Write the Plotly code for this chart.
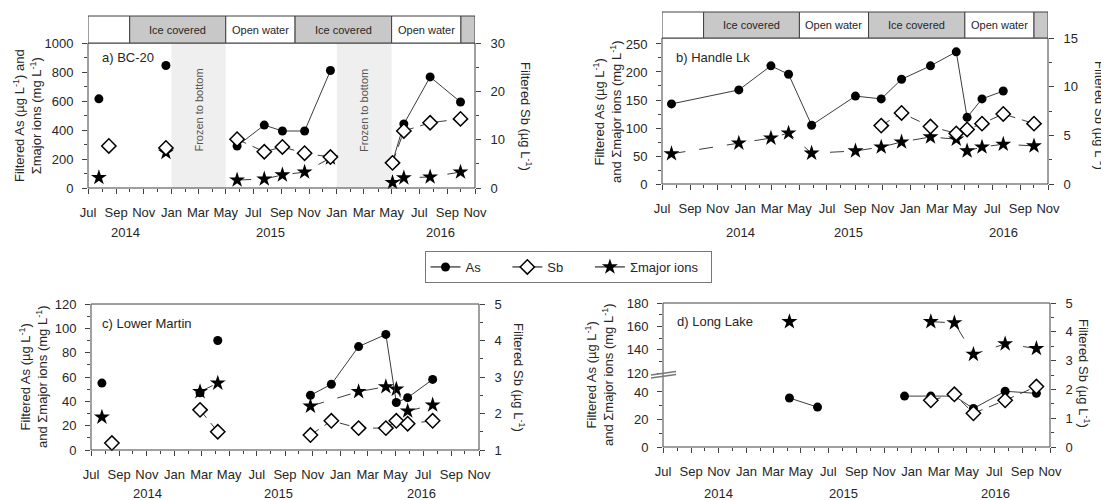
import datetime as dt
import plotly.graph_objects as go

# page body has an 8px margin; the figure is sized so that it fills the 1109x500 window
OFF = 8
W, H = 1109 - OFF, 500 - OFF

# ---------------- DATA ----------------
# Panel a) BC-20
A_DATES = ["2014-07-25", "2014-12-20", "2015-05-26", "2015-07-25", "2015-09-03", "2015-10-22",
           "2015-12-18", "2016-05-03", "2016-05-28", "2016-07-25", "2016-09-30"]
A_AS = [615, 845, 290, 434, 393, 393, 810, 180, 441, 766, 593]
A_IONS = [72, 245, 55, 62, 90, 110, 207, 38, 70, 76, 110]
A_SEG = [0, 1, 2, 2, 2, 2, 2, 3, 3, 3, 3]
A_SB_DATES = ["2014-08-16", "2014-12-20", "2015-05-26", "2015-07-25", "2015-09-03", "2015-10-22",
              "2015-12-18", "2016-05-03", "2016-05-28", "2016-07-25", "2016-09-30"]
A_SB = [8.7, 8.3, 10.1, 7.5, 8.5, 7.2, 6.4, 5.2, 11.8, 13.5, 14.3]
A_SB_SEG = [0, 1, 2, 2, 2, 2, 2, 3, 3, 3, 3]

# Panel b) Handle Lk
B_DATES = ["2014-07-22", "2014-12-18", "2015-02-27", "2015-04-07", "2015-05-28", "2015-09-02",
           "2015-10-29", "2015-12-13", "2016-02-15", "2016-04-12", "2016-05-06", "2016-06-08",
           "2016-07-25"]
B_AS = [143, 168, 211, 196, 105, 157, 152, 187, 211, 236, 119, 152, 166]
B_IONS_DATES = B_DATES + ["2016-10-01"]
B_IONS = [54, 73, 82, 91, 55, 59, 66, 75, 84, 80, 59, 66, 71, 68]
B_SB_DATES = ["2015-10-29", "2015-12-13", "2016-02-15", "2016-04-12", "2016-05-06", "2016-06-08",
              "2016-07-25", "2016-10-01"]
B_SB = [6.0, 7.3, 5.9, 5.2, 5.6, 6.2, 7.2, 6.2]

# Panel c) Lower Martin
C_AS_DATES = ["2014-07-25", "2015-02-26", "2015-04-06", "2015-10-27", "2015-12-12", "2016-02-10",
              "2016-04-10", "2016-05-03", "2016-05-28", "2016-07-22"]
C_AS = [55, 47, 90, 45, 54, 85, 95, 39, 43, 58]
C_AS_SEG = [0, 1, 2, 3, 3, 3, 3, 3, 3, 3]
C_SB_DATES = ["2014-08-16", "2015-02-26", "2015-04-06", "2015-10-27", "2015-12-12", "2016-02-10",
              "2016-04-10", "2016-05-03", "2016-05-28", "2016-07-22"]
C_SB = [1.19, 2.1, 1.5, 1.41, 1.8, 1.6, 1.6, 1.8, 1.72, 1.8]
C_SB_SEG = [0, 1, 1, 2, 2, 2, 2, 2, 2, 2]
C_IONS_DATES = ["2014-07-25", "2015-02-26", "2015-04-06", "2015-10-27", "2016-02-10",
                "2016-04-10", "2016-05-03", "2016-05-28", "2016-07-22"]
C_IONS = [27, 48, 55, 36, 48, 52, 50, 32, 37]
C_IONS_SEG = [0, 1, 1, 2, 2, 2, 2, 2, 2]

# Panel d) Long Lake
D_AS_DATES = ["2015-04-06", "2015-06-07", "2015-12-16", "2016-02-12", "2016-04-04", "2016-05-16",
              "2016-07-25", "2016-10-02"]
D_AS = [35.6, 29, 37, 37, 37, 28, 40.5, 39]
D_AS_SEG = [0, 0, 1, 1, 1, 1, 1, 1]
D_SB_DATES = ["2016-02-12", "2016-04-04", "2016-05-16", "2016-07-25", "2016-10-02"]
D_SB = [1.62, 1.83, 1.17, 1.62, 2.1]
D_IONS_DATES = ["2015-04-06", "2016-02-12", "2016-04-04", "2016-05-16", "2016-07-25", "2016-10-02"]
D_IONS = [164, 164, 163, 136, 145, 141]
D_IONS_SEG = [0, 1, 1, 1, 1, 1]

# Ice-cover header periods (start, end, label, shaded)
HEADER = [("2014-07-01", "2014-10-01", "", False),
          ("2014-10-01", "2015-05-01", "Ice covered", True),
          ("2015-05-01", "2015-10-01", "Open water", False),
          ("2015-10-01", "2016-05-01", "Ice covered", True),
          ("2016-05-01", "2016-10-01", "Open water", False),
          ("2016-10-01", "2016-11-01", "", True)]
FROZEN = [("2015-01-01", "2015-05-01"), ("2016-01-01", "2016-05-01")]

# ---------------- STYLE ----------------
FONT = "Arial, Liberation Sans, sans-serif"
LC = "#404040"
TC = "#262626"
LINEC = "#3c3c3c"


def X(p):
    return (p - OFF) / W


def Y(p):
    return 1 - (p - OFF) / H


def mid(s, e):
    a = dt.date.fromisoformat(s)
    b = dt.date.fromisoformat(e)
    return (a + (b - a) / 2).isoformat()


def gapped(dates, vals, segs=None):
    if segs is None:
        return list(dates), list(vals)
    xs, ys = [], []
    prev = segs[0]
    for d, v, s in zip(dates, vals, segs):
        if s != prev:
            xs.append(None)
            ys.append(None)
            prev = s
        xs.append(d)
        ys.append(v)
    return xs, ys


STYLES = {
    "As": dict(marker=dict(symbol="circle", size=9, color="black"),
               line=dict(color=LINEC, width=1)),
    "Sb": dict(marker=dict(symbol="diamond", size=11, color="white",
                           line=dict(color="black", width=1.5)),
               line=dict(color=LINEC, width=1, dash="10px,7px")),
    "ions": dict(marker=dict(symbol="star", size=12, color="black"),
                 line=dict(color=LINEC, width=1, dash="14px,14px")),
}

fig = go.Figure()


def add(kind, dates, vals, segs, xa, ya):
    xs, ys = gapped(dates, vals, segs)
    st = STYLES[kind]
    fig.add_trace(go.Scatter(x=xs, y=ys, mode="lines+markers", xaxis=xa, yaxis=ya,
                             showlegend=False, connectgaps=False, cliponaxis=False,
                             marker=st["marker"], line=st["line"]))


# panel a
add("ions", A_DATES, A_IONS, A_SEG, "x", "y")
add("As", A_DATES, A_AS, A_SEG, "x", "y")
add("Sb", A_SB_DATES, A_SB, A_SB_SEG, "x", "y2")
# panel b
add("ions", B_IONS_DATES, B_IONS, None, "x2", "y3")
add("As", B_DATES, B_AS, None, "x2", "y3")
add("Sb", B_SB_DATES, B_SB, None, "x2", "y4")
# panel c
add("ions", C_IONS_DATES, C_IONS, C_IONS_SEG, "x3", "y5")
add("As", C_AS_DATES, C_AS, C_AS_SEG, "x3", "y5")
add("Sb", C_SB_DATES, C_SB, C_SB_SEG, "x3", "y6")
# panel d
add("ions", D_IONS_DATES, D_IONS, D_IONS_SEG, "x4", "y8")
add("As", D_AS_DATES, D_AS, D_AS_SEG, "x4", "y7")
add("Sb", D_SB_DATES, D_SB, None, "x4", "y9")

# legend entries
NB = "\u00a0"
fig.add_trace(go.Scatter(x=[None], y=[None], mode="lines+markers", name="As" + NB * 6,
                         marker=STYLES["As"]["marker"], line=dict(color="black", width=1)))
fig.add_trace(go.Scatter(x=[None], y=[None], mode="lines+markers", name="Sb" + NB * 6,
                         marker=STYLES["Sb"]["marker"], line=dict(color="black", width=1)))
fig.add_trace(go.Scatter(x=[None], y=[None], mode="lines+markers", name="Σmajor ions" + NB * 2,
                         marker=STYLES["ions"]["marker"], line=dict(color="black", width=1)))

tickfont = dict(family=FONT, size=13, color=TC)


def xaxis(l, r, anchor):
    return dict(type="date", domain=[X(l), X(r)], anchor=anchor, automargin=False,
                range=["2014-07-01", "2016-11-01"], tick0="2014-07-01", dtick="M2",
                tickformat="%b", ticks="outside", ticklen=5, tickcolor=LC, tickwidth=1,
                ticklabelstandoff=7,
                showline=False, showgrid=False, zeroline=False, tickfont=tickfont,
                minor=dict(dtick="M1", ticks="outside", ticklen=3, tickcolor=LC, showgrid=False))


def yaxis(b, t, anchor, rng, dtick, mdtick, side="left", overlaying=None, tick0=0):
    d = dict(domain=[Y(b), Y(t)], anchor=anchor, range=rng, tick0=tick0, dtick=dtick,
             side=side, ticks="outside", ticklen=5, tickcolor=LC, tickwidth=1, automargin=False,
             ticklabelstandoff=6 if side == "left" else 7,
             showline=False, showgrid=False, zeroline=False, tickfont=tickfont,
             minor=dict(dtick=mdtick, ticks="outside", ticklen=3, tickcolor=LC, showgrid=False))
    if overlaying:
        d["overlaying"] = overlaying
    return d


PA = (88, 475, 43, 188)
PB = (662, 1048, 38, 184)
PC = (91, 479, 304, 450)
PD = (663, 1050, 303, 447)

fig.update_layout(
    template="none",
    xaxis=xaxis(PA[0], PA[1], "y"),
    yaxis=yaxis(PA[3], PA[2], "x", [0, 1000], 200, 100),
    yaxis2=yaxis(PA[3], PA[2], "x", [0, 30], 10, 5, side="right", overlaying="y"),
    xaxis2=xaxis(PB[0], PB[1], "y3"),
    yaxis3=yaxis(PB[3], PB[2], "x2", [0, 260.7], 50, 25),
    yaxis4=yaxis(PB[3], PB[2], "x2", [0, 15], 5, 2.5, side="right", overlaying="y3"),
    xaxis3=xaxis(PC[0], PC[1], "y5"),
    yaxis5=yaxis(PC[3], PC[2], "x3", [0, 120], 20, 10),
    yaxis6=yaxis(PC[3], PC[2], "x3", [1, 5], 1, 0.5, side="right", overlaying="y5"),
    xaxis4=xaxis(PD[0], PD[1], "y7"),
    yaxis7=yaxis(447, 380, "x4", [0, 48.7], 20, 10),
    yaxis8=yaxis(377, 303, "x4", [116.6, 180], 20, 10),
    yaxis9=yaxis(447, 303, "x4", [0, 5], 1, 0.5, side="right"),
)

shapes = []
annotations = []

# plot boxes
for (l, r, t, b) in (PA, PB, PC, PD):
    shapes.append(dict(type="rect", xref="paper", yref="paper", x0=X(l), x1=X(r),
                       y0=Y(b), y1=Y(t), line=dict(color=LC, width=1), layer="above"))

# headers
for xa, (top, bot) in (("x", (16, 43)), ("x2", (12, 38))):
    for s, e, lab, shaded in HEADER:
        shapes.append(dict(type="rect", xref=xa, yref="paper", x0=s, x1=e, y0=Y(bot), y1=Y(top),
                           fillcolor="#c8c8c8" if shaded else "white",
                           line=dict(color=LC, width=1), layer="above"))
        if lab:
            annotations.append(dict(xref=xa, yref="paper", x=mid(s, e), y=Y((top + bot) / 2),
                                    text=lab, showarrow=False, xanchor="center", yanchor="middle",
                                    font=dict(family=FONT, size=11, color=TC)))

# frozen to bottom shading (panel a)
for s, e in FROZEN:
    shapes.append(dict(type="rect", xref="x", yref="y domain", x0=s, x1=e, y0=0, y1=1,
                       fillcolor="#efefef", line=dict(width=0), layer="below"))
    annotations.append(dict(xref="x", yref="paper", x=mid(s, e), y=Y(110), text="Frozen to bottom",
                            textangle=-90, showarrow=False, xanchor="center", yanchor="middle",
                            font=dict(family=FONT, size=11, color="#555555")))

# break marks panel d
shapes.append(dict(type="line", xref="paper", yref="paper", x0=X(651), x1=X(676),
                   y0=Y(375), y1=Y(371.5), line=dict(color="#777777", width=1.3), layer="above"))
shapes.append(dict(type="line", xref="paper", yref="paper", x0=X(651), x1=X(676),
                   y0=Y(378), y1=Y(374.5), line=dict(color="#777777", width=1.3), layer="above"))

# panel labels
for txt, x, y in (("a) BC-20", 100, 58), ("b) Handle Lk", 674, 57),
                  ("c) Lower Martin", 100, 323), ("d) Long Lake", 675, 321)):
    annotations.append(dict(xref="paper", yref="paper", x=X(x), y=Y(y), text=txt,
                            showarrow=False, xanchor="left", yanchor="middle",
                            font=dict(family=FONT, size=13, color=TC)))

# year labels
for txt, x, y in (("2014", 125, 233), ("2015", 270, 233), ("2016", 440, 233),
                  ("2014", 740, 233), ("2015", 848, 233), ("2016", 1003, 233),
                  ("2014", 147, 493), ("2015", 278, 493), ("2016", 421, 493),
                  ("2014", 718, 493), ("2015", 843, 493), ("2016", 995, 493)):
    annotations.append(dict(xref="paper", yref="paper", x=X(x), y=Y(y), text=txt,
                            showarrow=False, xanchor="center", yanchor="middle",
                            font=dict(family=FONT, size=13, color=TC)))

SUP = "<sup>-1</sup>"
LEFT_A = f"Filtered As (µg L{SUP}) and<br>Σmajor ions (mg L{SUP})"
LEFT_B = f"Filtered As (µg L{SUP})<br>and Σmajor ions (mg L{SUP})"
RIGHT = f"Filtered Sb (µg L{SUP})"
for txt, x, y, ang in ((LEFT_A, 28, 116, -90), (LEFT_B, 607, 112, -90),
                       (LEFT_B, 33, 377, -90), (LEFT_B, 599, 375, -90),
                       (RIGHT, 526, 116, 90), (RIGHT, 1100, 115, 90),
                       (RIGHT, 519, 377, 90), (RIGHT, 1084, 373, 90)):
    annotations.append(dict(xref="paper", yref="paper", x=X(x), y=Y(y), text=txt,
                            showarrow=False, xanchor="center", yanchor="middle",
                            textangle=ang, align="center",
                            font=dict(family=FONT, size=13, color=TC)))

fig.update_layout(
    width=W, height=H, margin=dict(l=0, r=0, t=0, b=0, pad=0), autosize=False,
    paper_bgcolor="white", plot_bgcolor="rgba(0,0,0,0)",
    shapes=shapes, annotations=annotations,
    legend=dict(orientation="h", x=X(568), y=Y(267), xanchor="center", yanchor="middle",
                bordercolor="#777777", borderwidth=1, bgcolor="white",
                font=dict(family=FONT, size=13, color=TC)),
    font=dict(family=FONT, size=13, color=TC),
)

fig.write_html("out.html")
